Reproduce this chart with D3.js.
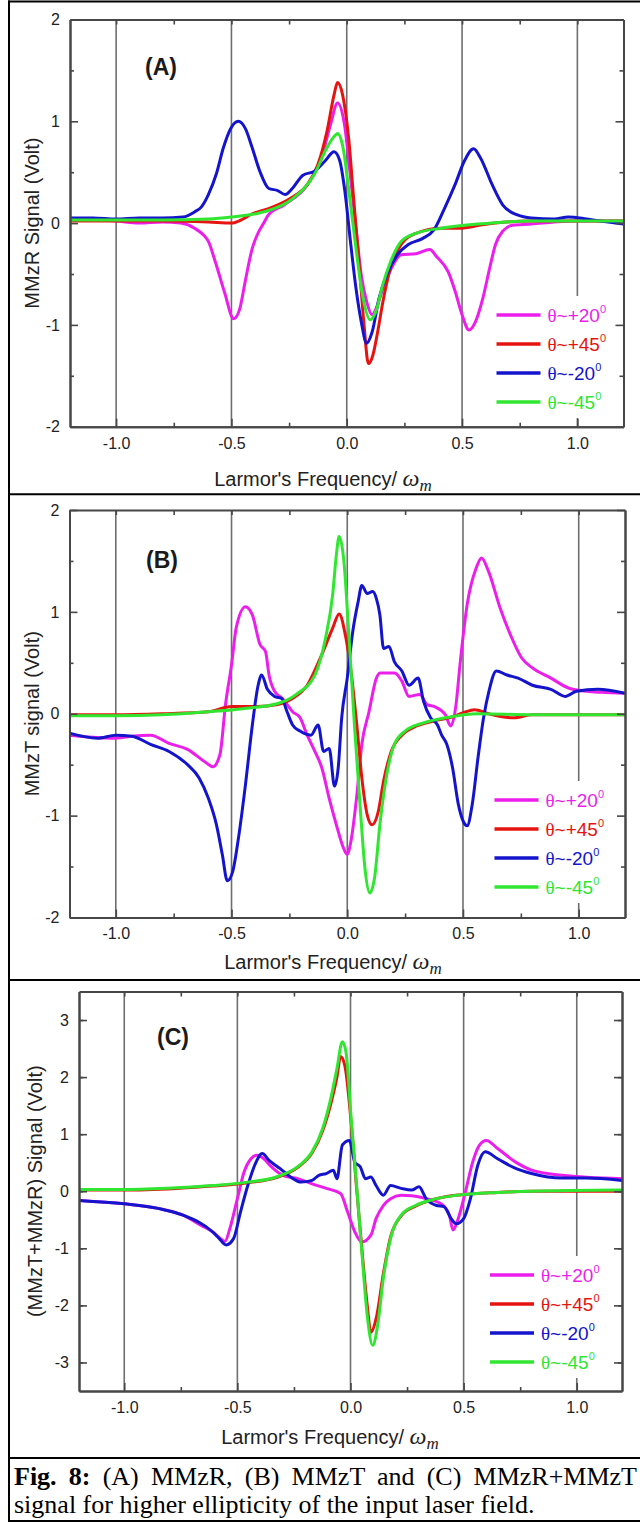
<!DOCTYPE html>
<html>
<head>
<meta charset="utf-8">
<script src="https://cdn.jsdelivr.net/npm/d3@7"></script>
<style>
  body { margin: 0; background: #fff; }
  svg { display: block; }
</style>
</head>
<body>
<svg id="fig" width="640" height="1522"></svg>
<script>
// ---- data ----
const xMajor = [-1.0, -0.5, 0.0, 0.5, 1.0];
const xMinor = [-0.75, -0.25, 0.25, 0.75];
const tickLabelsX = ["-1.0", "-0.5", "0.0", "0.5", "1.0"];
const seriesNames = ["θ~+20", "θ~+45", "θ~-20", "θ~-45"];

// panel A : MMzR
const aMag = [[-1.2,0.03],[-1.1,0.03],[-1.0,0.02],[-0.9,0.0],[-0.8,0.01],[-0.72,0.0],[-0.66,-0.05],[-0.62,-0.12],[-0.6,-0.18],[-0.57,-0.38],[-0.53,-0.68],[-0.49,-0.94],[-0.465,-0.85],[-0.44,-0.57],[-0.41,-0.25],[-0.385,-0.1],[-0.36,0.0],[-0.34,0.08],[-0.27,0.18],[-0.17,0.38],[-0.11,0.64],[-0.07,0.97],[-0.04,1.18],[-0.01,0.97],[0.015,0.48],[0.04,-0.05],[0.063,-0.51],[0.086,-0.77],[0.11,-0.9],[0.134,-0.8],[0.157,-0.64],[0.19,-0.46],[0.235,-0.31],[0.3,-0.3],[0.36,-0.26],[0.39,-0.33],[0.44,-0.48],[0.47,-0.67],[0.5,-0.9],[0.53,-1.05],[0.558,-0.97],[0.59,-0.74],[0.62,-0.44],[0.645,-0.21],[0.676,-0.08],[0.72,-0.02],[0.8,-0.01],[0.9,0.01],[1.0,0.02],[1.1,0.02],[1.2,0.02]];
const aRed = [[-1.2,0.02],[-1.0,0.02],[-0.8,0.02],[-0.6,0.01],[-0.5,0.0],[-0.45,0.04],[-0.42,0.08],[-0.33,0.15],[-0.24,0.25],[-0.17,0.38],[-0.126,0.57],[-0.086,0.9],[-0.055,1.26],[-0.04,1.38],[-0.018,1.26],[0.008,0.84],[0.031,0.21],[0.055,-0.44],[0.075,-1.0],[0.094,-1.38],[0.113,-1.3],[0.134,-1.07],[0.157,-0.77],[0.19,-0.44],[0.236,-0.21],[0.3,-0.1],[0.41,-0.05],[0.49,-0.05],[0.58,-0.02],[0.645,0.0],[0.8,0.02],[1.0,0.02],[1.2,0.02]];
const aBlu = [[-1.2,0.05],[-1.1,0.05],[-1.0,0.04],[-0.9,0.05],[-0.8,0.05],[-0.71,0.06],[-0.66,0.11],[-0.63,0.16],[-0.6,0.28],[-0.566,0.48],[-0.535,0.74],[-0.503,0.93],[-0.47,1.0],[-0.44,0.93],[-0.41,0.74],[-0.377,0.51],[-0.338,0.34],[-0.3,0.32],[-0.267,0.28],[-0.236,0.34],[-0.19,0.47],[-0.14,0.51],[-0.094,0.61],[-0.055,0.7],[-0.03,0.61],[-0.008,0.31],[0.016,-0.18],[0.04,-0.64],[0.063,-0.97],[0.086,-1.18],[0.11,-1.07],[0.14,-0.74],[0.173,-0.51],[0.22,-0.31],[0.267,-0.21],[0.33,-0.15],[0.377,-0.07],[0.425,0.15],[0.47,0.38],[0.51,0.61],[0.55,0.73],[0.58,0.64],[0.63,0.38],[0.676,0.18],[0.74,0.08],[0.8,0.05],[0.9,0.04],[0.96,0.06],[1.04,0.04],[1.1,0.02],[1.2,-0.01]];
const aGrn = [[-1.2,0.03],[-1.0,0.03],[-0.8,0.03],[-0.6,0.04],[-0.5,0.06],[-0.36,0.11],[-0.24,0.23],[-0.14,0.48],[-0.086,0.74],[-0.055,0.85],[-0.04,0.88],[-0.016,0.74],[0.008,0.34],[0.04,-0.25],[0.071,-0.74],[0.102,-0.95],[0.126,-0.87],[0.157,-0.6],[0.19,-0.38],[0.236,-0.18],[0.3,-0.1],[0.41,-0.05],[0.566,-0.01],[0.8,0.02],[1.0,0.02],[1.2,0.02]];

// panel B : MMzT
const bMag = [[-1.2,-0.21],[-1.1,-0.23],[-1.0,-0.24],[-0.93,-0.22],[-0.85,-0.21],[-0.77,-0.29],[-0.69,-0.35],[-0.61,-0.48],[-0.58,-0.52],[-0.55,-0.4],[-0.526,0.09],[-0.5,0.48],[-0.48,0.84],[-0.44,1.05],[-0.41,0.97],[-0.377,0.68],[-0.353,0.61],[-0.338,0.38],[-0.314,0.22],[-0.28,0.15],[-0.236,0.02],[-0.204,-0.04],[-0.173,-0.21],[-0.14,-0.37],[-0.11,-0.53],[-0.078,-0.83],[-0.047,-1.09],[-0.016,-1.32],[0.0,-1.38],[0.016,-1.25],[0.04,-0.83],[0.063,-0.3],[0.094,0.02],[0.126,0.35],[0.141,0.4],[0.204,0.4],[0.236,0.32],[0.267,0.17],[0.314,0.19],[0.345,0.09],[0.377,0.07],[0.424,-0.01],[0.447,-0.12],[0.47,0.09],[0.487,0.48],[0.518,1.07],[0.557,1.43],[0.58,1.53],[0.61,1.4],[0.66,1.04],[0.706,0.77],[0.753,0.55],[0.8,0.45],[0.88,0.35],[0.958,0.25],[1.036,0.22],[1.1,0.21],[1.2,0.2]];
const bRed = [[-1.2,-0.01],[-1.0,-0.01],[-0.8,0.0],[-0.6,0.02],[-0.5,0.07],[-0.39,0.07],[-0.3,0.09],[-0.236,0.15],[-0.173,0.28],[-0.11,0.58],[-0.063,0.84],[-0.035,0.98],[-0.008,0.77],[0.016,0.42],[0.04,-0.08],[0.063,-0.63],[0.086,-0.99],[0.107,-1.09],[0.134,-0.96],[0.157,-0.66],[0.19,-0.37],[0.236,-0.21],[0.3,-0.12],[0.377,-0.07],[0.455,-0.03],[0.502,0.01],[0.55,0.04],[0.61,0.0],[0.72,-0.04],[0.8,-0.01],[1.0,-0.01],[1.2,-0.01]];
const bBlu = [[-1.2,-0.19],[-1.08,-0.24],[-1.0,-0.21],[-0.93,-0.22],[-0.85,-0.3],[-0.77,-0.37],[-0.69,-0.5],[-0.64,-0.63],[-0.6,-0.83],[-0.565,-1.09],[-0.54,-1.38],[-0.518,-1.64],[-0.495,-1.55],[-0.47,-1.22],[-0.44,-0.7],[-0.41,-0.11],[-0.385,0.28],[-0.37,0.38],[-0.345,0.24],[-0.314,0.17],[-0.283,0.15],[-0.26,0.02],[-0.236,-0.11],[-0.204,-0.17],[-0.157,-0.21],[-0.126,-0.11],[-0.102,-0.37],[-0.078,-0.34],[-0.055,-0.71],[-0.039,-0.53],[-0.024,-0.04],[0.0,0.35],[0.024,0.81],[0.047,1.1],[0.063,1.26],[0.086,1.18],[0.11,1.2],[0.126,1.13],[0.141,0.97],[0.157,0.64],[0.18,0.66],[0.204,0.51],[0.236,0.42],[0.267,0.28],[0.306,0.35],[0.33,0.12],[0.36,-0.04],[0.39,-0.11],[0.408,-0.21],[0.43,-0.3],[0.455,-0.53],[0.48,-0.89],[0.502,-1.06],[0.518,-1.1],[0.54,-0.89],[0.565,-0.43],[0.589,-0.04],[0.612,0.22],[0.644,0.42],[0.69,0.38],[0.738,0.35],[0.8,0.28],[0.88,0.24],[0.942,0.17],[0.99,0.22],[1.083,0.24],[1.2,0.2]];
const bGrn = [[-1.2,-0.02],[-1.0,-0.02],[-0.8,-0.01],[-0.6,0.02],[-0.45,0.05],[-0.3,0.1],[-0.22,0.19],[-0.14,0.38],[-0.094,0.74],[-0.063,1.17],[-0.047,1.56],[-0.035,1.74],[-0.016,1.53],[0.008,0.74],[0.031,-0.11],[0.055,-0.89],[0.078,-1.55],[0.097,-1.76],[0.118,-1.61],[0.141,-1.09],[0.173,-0.57],[0.204,-0.3],[0.25,-0.17],[0.33,-0.09],[0.424,-0.04],[0.565,0.0],[0.8,-0.01],[1.0,-0.01],[1.2,-0.01]];

// panel C : MMzT+MMzR
const cMag = [[-1.2,-0.16],[-1.0,-0.22],[-0.85,-0.3],[-0.74,-0.42],[-0.66,-0.6],[-0.61,-0.71],[-0.565,-0.86],[-0.555,-0.88],[-0.533,-0.65],[-0.5,-0.13],[-0.47,0.34],[-0.44,0.57],[-0.415,0.63],[-0.383,0.57],[-0.35,0.43],[-0.3,0.28],[-0.233,0.22],[-0.17,0.13],[-0.107,0.05],[-0.044,-0.04],[-0.013,-0.36],[0.019,-0.71],[0.05,-0.89],[0.09,-0.77],[0.113,-0.48],[0.145,-0.25],[0.177,-0.13],[0.224,-0.07],[0.27,-0.08],[0.334,-0.13],[0.4,-0.22],[0.437,-0.42],[0.453,-0.68],[0.476,-0.48],[0.508,-0.01],[0.54,0.51],[0.57,0.81],[0.6,0.89],[0.65,0.75],[0.73,0.51],[0.8,0.37],[0.934,0.28],[1.2,0.22]];
const cRed = [[-1.2,0.02],[-1.0,0.02],[-0.77,0.05],[-0.61,0.09],[-0.454,0.15],[-0.328,0.24],[-0.233,0.42],[-0.17,0.67],[-0.123,1.06],[-0.084,1.58],[-0.06,2.0],[-0.044,2.36],[-0.025,2.2],[0.003,1.2],[0.027,0.05],[0.05,-1.0],[0.074,-2.0],[0.09,-2.47],[0.115,-2.2],[0.145,-1.45],[0.177,-0.8],[0.224,-0.43],[0.287,-0.26],[0.38,-0.13],[0.49,-0.06],[0.65,-0.02],[0.8,0.0],[1.2,0.0]];
const cBlu = [[-1.2,-0.16],[-1.0,-0.22],[-0.85,-0.3],[-0.74,-0.42],[-0.61,-0.71],[-0.58,-0.83],[-0.55,-0.94],[-0.517,-0.83],[-0.486,-0.36],[-0.454,0.1],[-0.423,0.46],[-0.39,0.66],[-0.36,0.54],[-0.312,0.4],[-0.265,0.25],[-0.218,0.16],[-0.17,0.19],[-0.14,0.28],[-0.107,0.31],[-0.076,0.37],[-0.06,0.22],[-0.036,0.81],[-0.005,0.89],[0.019,0.51],[0.043,0.43],[0.066,0.22],[0.09,0.25],[0.113,0.1],[0.145,-0.07],[0.177,0.1],[0.224,0.05],[0.27,0.02],[0.303,0.08],[0.334,-0.13],[0.38,-0.25],[0.413,-0.27],[0.445,-0.48],[0.468,-0.57],[0.5,-0.48],[0.53,-0.13],[0.563,0.46],[0.595,0.69],[0.65,0.57],[0.73,0.4],[0.8,0.31],[0.934,0.23],[1.04,0.23],[1.2,0.19]];
const cGrn = [[-1.2,0.03],[-1.0,0.03],[-0.77,0.06],[-0.61,0.1],[-0.454,0.16],[-0.328,0.25],[-0.233,0.43],[-0.17,0.69],[-0.123,1.1],[-0.084,1.68],[-0.06,2.15],[-0.036,2.62],[-0.02,2.44],[0.003,1.27],[0.027,0.1],[0.05,-1.06],[0.074,-2.18],[0.098,-2.7],[0.12,-2.35],[0.145,-1.53],[0.177,-0.83],[0.224,-0.42],[0.287,-0.25],[0.38,-0.13],[0.49,-0.06],[0.65,-0.02],[0.8,0.0],[1.2,0.02]];

// ---- styling ----
const colors = ["#ec1eec", "#e61410", "#1414cc", "#30e630"];
const sans = "'Liberation Sans', Arial, sans-serif";
const serif = "'Liberation Serif', 'Times New Roman', serif";

const svg = d3.select("#fig");

function drawPanel(p) {
  const x = d3.scaleLinear().domain([-1.2, 1.2]).range([p.left, p.right]);
  const y = d3.scaleLinear().domain(p.yDomain).range([p.bottom, p.top]);
  const g = svg.append("g");

  // vertical grid lines
  g.selectAll("line.grid").data(xMajor).enter().append("line")
    .attr("x1", d => x(d)).attr("x2", d => x(d))
    .attr("y1", p.top).attr("y2", p.bottom)
    .attr("stroke", "#6e6e6e").attr("stroke-width", 1.6);

  // legend background hides the grid line behind it
  const legTop = p.legY - 19, legBot = p.legY + 3 * p.legStep + 16;
  g.append("rect")
    .attr("x", p.legX - 6).attr("y", legTop)
    .attr("width", p.right - 10 - (p.legX - 6)).attr("height", legBot - legTop)
    .attr("fill", "#fff");

  // curves
  const clipId = "clip" + p.id;
  svg.append("clipPath").attr("id", clipId).append("rect")
    .attr("x", p.left).attr("y", p.top)
    .attr("width", p.right - p.left).attr("height", p.bottom - p.top);
  const line = d3.line().x(d => x(d[0])).y(d => y(d[1])).curve(d3.curveMonotoneX);
  g.append("g").attr("clip-path", "url(#" + clipId + ")")
    .selectAll("path").data(p.series).enter().append("path")
    .attr("d", line)
    .attr("fill", "none")
    .attr("stroke", (d, i) => colors[i])
    .attr("stroke-width", 3)
    .attr("stroke-linejoin", "round");

  // legend
  const leg = g.selectAll("g.leg").data(seriesNames).enter().append("g")
    .attr("transform", (d, i) => "translate(0," + (p.legY + i * p.legStep) + ")");
  leg.append("line")
    .attr("x1", p.legX).attr("x2", p.legX + 44)
    .attr("stroke", (d, i) => colors[i]).attr("stroke-width", 3.5);
  const lt = leg.append("text")
    .attr("x", p.legX + 51).attr("y", 7)
    .attr("fill", (d, i) => colors[i])
    .attr("font-family", sans).attr("font-size", 19);
  lt.append("tspan").attr("font-family", serif).text(d => d.slice(0, 1));
  lt.append("tspan").text(d => d.slice(1));
  lt.append("tspan").attr("font-size", 11).attr("dy", -9).text("0");

  // axes
  const styleAxis = a => {
    a.attr("font-family", sans).attr("font-size", 16);
    a.select(".domain").attr("stroke", "#474747").attr("stroke-width", 2);
    a.selectAll(".tick line").attr("stroke", "#474747").attr("stroke-width", 1.6);
    a.selectAll(".tick text").attr("fill", "#222");
  };
  const minorY = d3.range(p.yDomain[0] + 0.5, p.yDomain[1], 1);

  g.append("g").attr("transform", "translate(0," + p.bottom + ")")
    .call(d3.axisBottom(x).tickValues(xMajor).tickSize(-8).tickSizeOuter(0)
      .tickPadding(10.5).tickFormat((d, i) => tickLabelsX[i]))
    .call(styleAxis);
  g.append("g").attr("transform", "translate(0," + p.bottom + ")")
    .call(d3.axisBottom(x).tickValues(xMinor).tickSize(-4).tickSizeOuter(0).tickFormat(""))
    .call(styleAxis);
  g.append("g").attr("transform", "translate(0," + p.top + ")")
    .call(d3.axisTop(x).tickValues(xMajor.concat(xMinor)).tickSize(-5).tickSizeOuter(0).tickFormat(""))
    .call(styleAxis);
  g.append("g").attr("transform", "translate(" + p.left + ",0)")
    .call(d3.axisLeft(y).tickValues(p.yTicks).tickSize(-8).tickSizeOuter(0)
      .tickPadding(10).tickFormat(d => String(d)))
    .call(styleAxis);
  g.append("g").attr("transform", "translate(" + p.left + ",0)")
    .call(d3.axisLeft(y).tickValues(minorY).tickSize(-4).tickSizeOuter(0).tickFormat(""))
    .call(styleAxis);
  g.append("g").attr("transform", "translate(" + p.right + ",0)")
    .call(d3.axisRight(y).tickValues(p.yTicks).tickSize(-8).tickSizeOuter(0).tickFormat(""))
    .call(styleAxis);
  g.append("g").attr("transform", "translate(" + p.right + ",0)")
    .call(d3.axisRight(y).tickValues(minorY).tickSize(-4).tickSizeOuter(0).tickFormat(""))
    .call(styleAxis);

  // panel tag
  g.append("text").attr("x", p.tagX).attr("y", p.tagY)
    .attr("font-family", sans).attr("font-weight", "bold").attr("font-size", 23)
    .attr("fill", "#1a1a1a").text(p.tag);

  // y title
  g.append("text")
    .attr("transform", "translate(" + p.yTitleX + "," + ((p.top + p.bottom) / 2) + ") rotate(-90)")
    .attr("text-anchor", "middle").attr("dy", "0.35em")
    .attr("font-family", sans).attr("font-size", 20).attr("fill", "#222")
    .text(p.yTitle);

  // x title
  const xt = g.append("text").attr("x", p.xTitleX).attr("y", p.xTitleY)
    .attr("text-anchor", "middle")
    .attr("font-family", sans).attr("font-size", 20).attr("fill", "#222");
  xt.append("tspan").text("Larmor's Frequency/ ");
  xt.append("tspan").attr("font-family", serif).attr("font-style", "italic")
    .attr("font-size", 24).text("ω");
  xt.append("tspan").attr("font-family", serif).attr("font-style", "italic")
    .attr("font-size", 17).attr("dy", 5).text("m");
}

drawPanel({
  id: "A", tag: "(A)", series: [aMag, aRed, aBlu, aGrn],
  left: 70, right: 623.5, top: 19.5, bottom: 426.7,
  yDomain: [-2, 2], yTicks: [-2, -1, 0, 1, 2],
  tagX: 145, tagY: 75, yTitle: "MMzR Signal (Volt)", yTitleX: 32,
  xTitleX: 323, xTitleY: 486, legX: 496.5, legY: 315, legStep: 29
});
drawPanel({
  id: "B", tag: "(B)", series: [bMag, bRed, bBlu, bGrn],
  left: 69.5, right: 625, top: 510, bottom: 917.5,
  yDomain: [-2, 2], yTicks: [-2, -1, 0, 1, 2],
  tagX: 146, tagY: 568, yTitle: "MMzT signal (Volt)", yTitleX: 32,
  xTitleX: 333, xTitleY: 969, legX: 494.5, legY: 800, legStep: 29
});
drawPanel({
  id: "C", tag: "(C)", series: [cMag, cRed, cBlu, cGrn],
  left: 79, right: 622, top: 991.5, bottom: 1391,
  yDomain: [-3.5, 3.5], yTicks: [-3, -2, -1, 0, 1, 2, 3],
  tagX: 157, tagY: 1045, yTitle: "(MMzT+MMzR) Signal (Volt)", yTitleX: 35,
  xTitleX: 330, xTitleY: 1444, legX: 490, legY: 1275, legStep: 29
});

// table borders
const rules = [1.5, 494.3, 980, 1458, 1521];
svg.selectAll("line.rule").data(rules).enter().append("line")
  .attr("x1", 8).attr("x2", 640).attr("y1", d => d).attr("y2", d => d)
  .attr("stroke", "#000").attr("stroke-width", 2);
svg.append("line").attr("x1", 9).attr("x2", 9).attr("y1", 0.5).attr("y2", 1522)
  .attr("stroke", "#000").attr("stroke-width", 2);

// caption
const cap1 = svg.append("text").attr("x", 14).attr("y", 1485)
  .attr("font-family", serif).attr("font-size", 26).attr("fill", "#000");
cap1.append("tspan").attr("font-weight", "bold").text("Fig. 8:");
cap1.append("tspan").text(" (A) MMzR, (B) MMzT and (C) MMzR+MMzT");
const natural = cap1.node().getComputedTextLength();
cap1.attr("word-spacing", Math.max(0, (623 - natural) / 8));
svg.append("text").attr("x", 14).attr("y", 1513)
  .attr("font-family", serif).attr("font-size", 26).attr("fill", "#000")
  .text("signal for higher ellipticity of the input laser field.");
</script>
</body>
</html>
